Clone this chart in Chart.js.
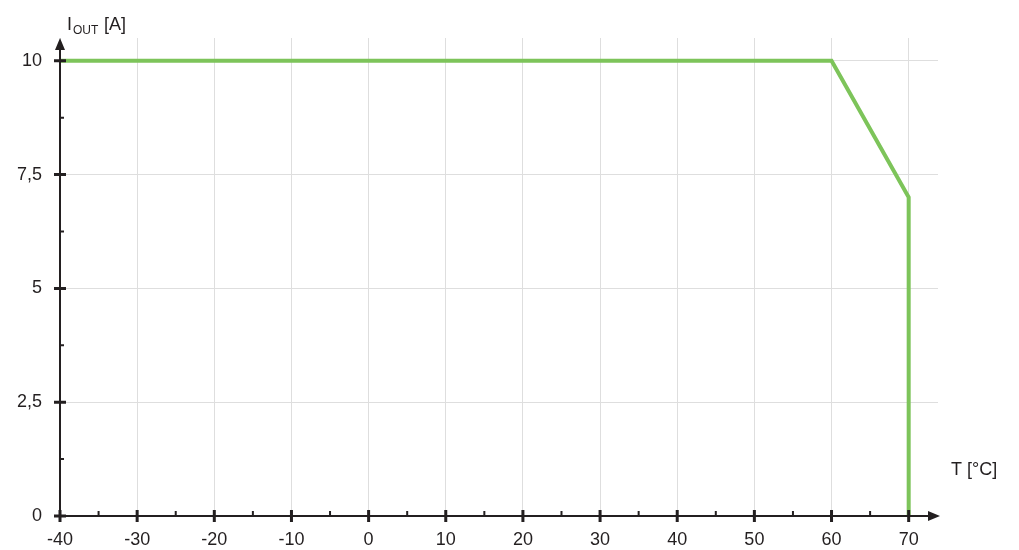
<!DOCTYPE html>
<html>
<head>
<meta charset="utf-8">
<script src="https://cdn.jsdelivr.net/npm/chart.js@4.4.1/dist/chart.umd.min.js"></script>
<style>
  html, body { margin: 0; padding: 0; background: #fff; }
  #wrap { width: 1019px; height: 550px; position: relative; }
</style>
</head>
<body>
<div id="wrap"><canvas id="myChart"></canvas></div>
<script>
// derating curve: output current vs ambient temperature
const tempPoints = [-40, 60, 70, 70];
const currentPoints = [10, 10, 7, 0];
const xTicks = [-40, -30, -20, -10, 0, 10, 20, 30, 40, 50, 60, 70];
const yTicks = [0, 2.5, 5, 7.5, 10];
const xMinorTicks = [-35, -25, -15, -5, 5, 15, 25, 35, 45, 55, 65];
const yMinorTicks = [1.25, 3.75, 6.25, 8.75];

const lineData = tempPoints.map((t, i) => ({ x: t, y: currentPoints[i] }));
const FONT = '"Liberation Sans", Arial, sans-serif';
const INK = '#231f20';

// draws the black axes with arrows, tick marks and the axis titles
const axesPlugin = {
    id: 'axesPlugin',
    afterDraw(chart) {
        const ctx = chart.ctx;
        const xs = chart.scales.x, ys = chart.scales.y;
        const x0 = xs.getPixelForValue(-40);
        const y0 = ys.getPixelForValue(0);
        const right = chart.chartArea.right;
        const top = chart.chartArea.top;
        ctx.save();
        ctx.strokeStyle = INK;
        ctx.fillStyle = INK;
        ctx.lineWidth = 2;
        ctx.beginPath();
        ctx.moveTo(x0, y0); ctx.lineTo(right - 4, y0);
        ctx.moveTo(x0, y0); ctx.lineTo(x0, top + 4);
        ctx.stroke();
        // arrows
        ctx.beginPath();
        ctx.moveTo(right + 2, y0); ctx.lineTo(right - 10, y0 - 5); ctx.lineTo(right - 10, y0 + 5); ctx.closePath();
        ctx.moveTo(x0, top); ctx.lineTo(x0 - 5, top + 12); ctx.lineTo(x0 + 5, top + 12); ctx.closePath();
        ctx.fill();
        // major ticks
        ctx.lineWidth = 3;
        ctx.beginPath();
        xTicks.forEach(v => { const p = xs.getPixelForValue(v); ctx.moveTo(p, y0 - 6); ctx.lineTo(p, y0 + 6); });
        yTicks.forEach(v => { const p = ys.getPixelForValue(v); ctx.moveTo(x0 - 6, p); ctx.lineTo(x0 + 6, p); });
        ctx.stroke();
        // minor ticks
        ctx.lineWidth = 2;
        ctx.beginPath();
        xMinorTicks.forEach(v => { const p = xs.getPixelForValue(v); ctx.moveTo(p, y0); ctx.lineTo(p, y0 - 5); });
        yMinorTicks.forEach(v => { const p = ys.getPixelForValue(v); ctx.moveTo(x0, p); ctx.lineTo(x0 + 4, p); });
        ctx.stroke();
        // axis titles
        ctx.textBaseline = 'alphabetic';
        ctx.textAlign = 'left';
        ctx.font = '18px ' + FONT;
        ctx.fillText('I', 67, 30);
        ctx.font = '12px ' + FONT;
        ctx.fillText('OUT', 73, 34);
        ctx.font = '18px ' + FONT;
        ctx.fillText('[A]', 104, 30);
        ctx.fillText('T [°C]', 951, 475);
        ctx.restore();
    }
};

const ctx = document.getElementById('myChart').getContext('2d');
const myChart = new Chart(ctx, {
    type: 'scatter',
    data: {
        datasets: [{
            label: 'I_OUT',
            data: lineData,
            showLine: true,
            borderColor: '#7dc45a',
            borderWidth: 4,
            pointRadius: 0,
            fill: false,
            tension: 0
        }]
    },
    options: {
        responsive: true,
        maintainAspectRatio: false,
        animation: false,
        layout: { padding: { top: 38, right: 81, bottom: 0, left: 0 } },
        plugins: { legend: { display: false }, tooltip: { enabled: false } },
        scales: {
            x: {
                type: 'linear',
                min: -40,
                max: 73.8,
                afterBuildTicks: scale => { scale.ticks = xTicks.map(v => ({ value: v })); },
                afterFit: scale => { scale.height = 34; },
                grid: { color: '#dedede', lineWidth: 1, drawTicks: false },
                border: { display: false },
                ticks: {
                    padding: 13,
                    color: INK,
                    font: { family: FONT, size: 18 },
                    callback: v => String(v)
                }
            },
            y: {
                type: 'linear',
                min: 0,
                max: 10.5,
                afterBuildTicks: scale => { scale.ticks = yTicks.map(v => ({ value: v })); },
                afterFit: scale => { scale.width = 60; },
                grid: { color: '#dedede', lineWidth: 1, drawTicks: false },
                border: { display: false },
                ticks: {
                    padding: 18,
                    color: INK,
                    font: { family: FONT, size: 18 },
                    callback: v => String(v).replace('.', ',')
                }
            }
        }
    },
    plugins: [axesPlugin]
});
</script>
</body>
</html>
